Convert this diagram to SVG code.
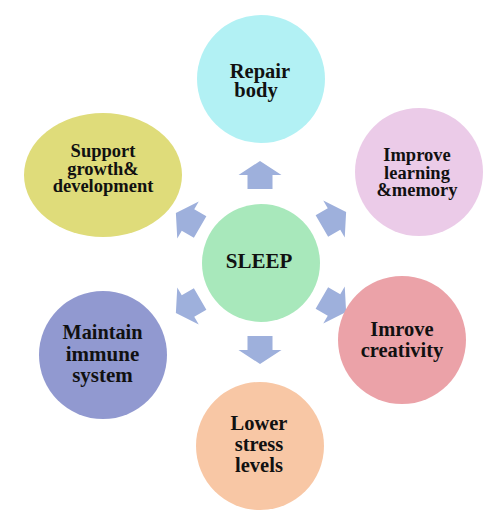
<svg xmlns="http://www.w3.org/2000/svg" width="491" height="521" viewBox="0 0 491 521">
<defs>
<style>
.t{font-family:"Liberation Serif","Times New Roman",serif;font-weight:bold;fill:#111;text-anchor:middle}
.arr{fill:#9eb0dc}
</style>
<polygon id="ar" class="arr" points="0,-14 21.5,0 12.5,0 12.5,14 -12.5,14 -12.5,0 -21.5,0"/>
</defs>
<rect width="491" height="521" fill="#ffffff"/>
<g id="connectors">
<use href="#ar" transform="translate(260,175)"/>
<use href="#ar" transform="translate(334,219) rotate(60)"/>
<use href="#ar" transform="translate(334,305) rotate(120)"/>
<use href="#ar" transform="translate(260,350) rotate(180)"/>
<use href="#ar" transform="translate(188,306) rotate(240)"/>
<use href="#ar" transform="translate(188,220) rotate(300)"/>
</g>
<g id="sleep">
<circle cx="261" cy="263" r="59" fill="#a8e8bb"/>
<text class="t" x="259" y="268" font-size="21">SLEEP</text>
</g>
<g id="repair">
<circle cx="261" cy="79" r="64" fill="#b2f1f4"/>
<text class="t" font-size="20.5"><tspan x="260" y="78">Repair</tspan><tspan x="256" y="97">body</tspan></text>
</g>
<g id="learning">
<circle cx="419" cy="172" r="64" fill="#ebcbe8"/>
<text class="t" font-size="18.5"><tspan x="417" y="161">Improve</tspan><tspan x="417" y="178.5">learning</tspan><tspan x="417" y="196">&amp;memory</tspan></text>
</g>
<g id="creativity">
<circle cx="402" cy="340" r="64" fill="#eba2a8"/>
<text class="t" font-size="20.5"><tspan x="402" y="336">Imrove</tspan><tspan x="402" y="357">creativity</tspan></text>
</g>
<g id="stress">
<circle cx="260" cy="446" r="64" fill="#f8c7a5"/>
<text class="t" font-size="20.5"><tspan x="259" y="430">Lower</tspan><tspan x="259" y="451">stress</tspan><tspan x="259" y="472">levels</tspan></text>
</g>
<g id="immune">
<circle cx="103" cy="355" r="64" fill="#9199d0"/>
<text class="t" font-size="21"><tspan x="102.5" y="339" textLength="80" lengthAdjust="spacingAndGlyphs">Maintain</tspan><tspan x="102.5" y="361">immune</tspan><tspan x="102.5" y="382">system</tspan></text>
</g>
<g id="support">
<ellipse cx="103" cy="175" rx="79" ry="62" fill="#dfdc7a"/>
<text class="t" font-size="18.5"><tspan x="103" y="157">Support</tspan><tspan x="103" y="174.5">growth&amp;</tspan><tspan x="103" y="192">development</tspan></text>
</g>
</svg>
